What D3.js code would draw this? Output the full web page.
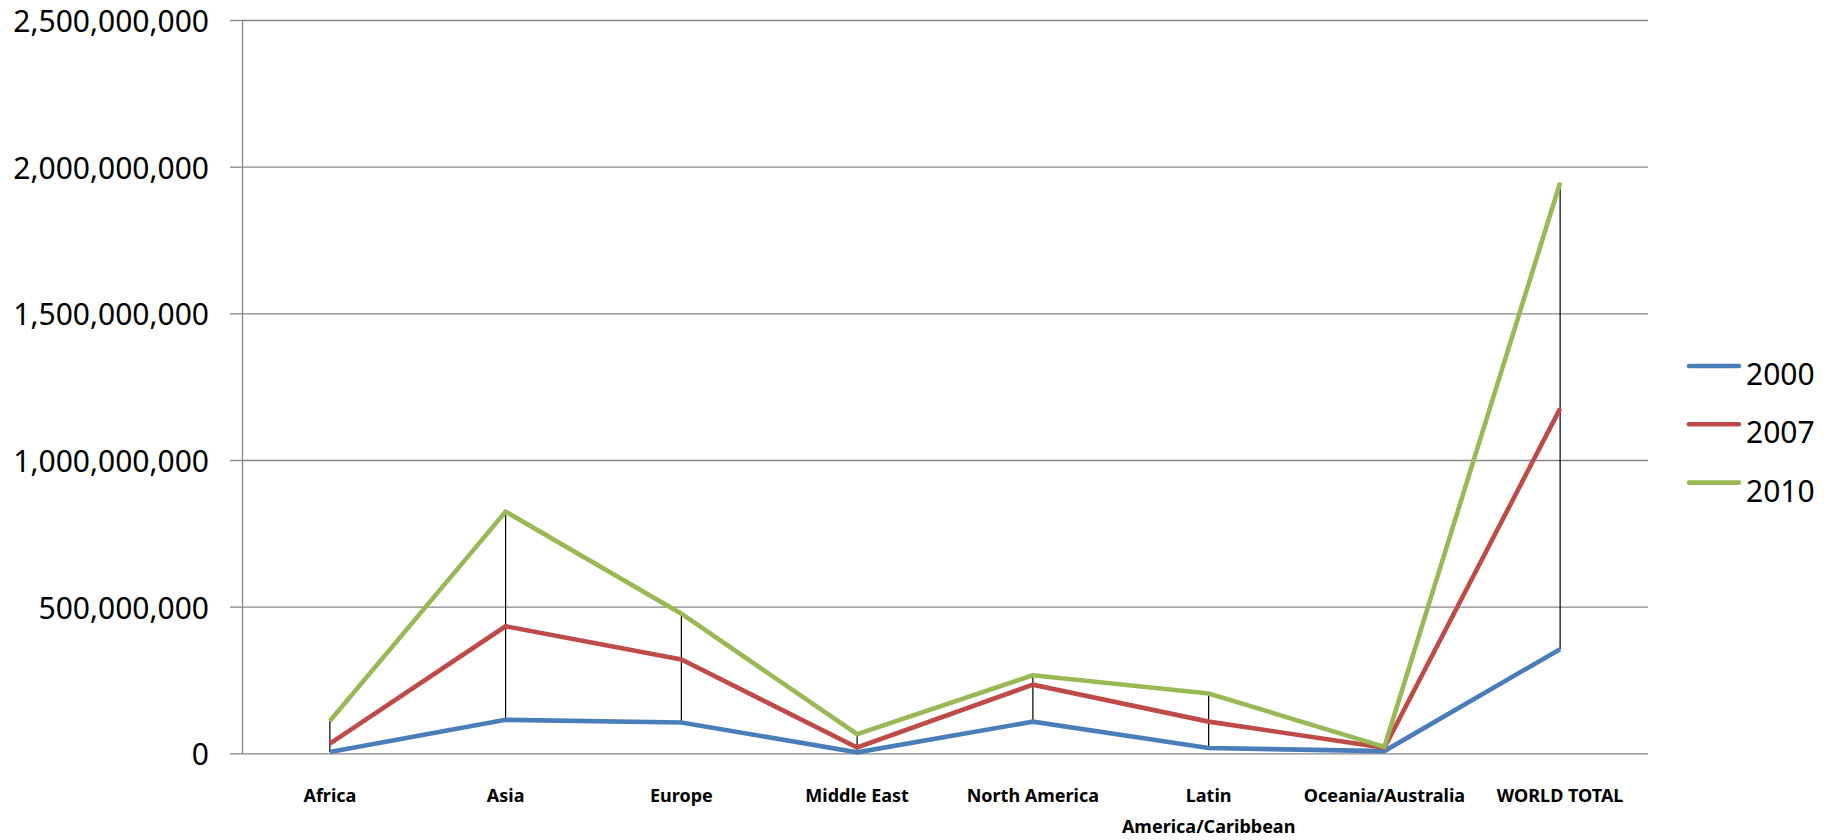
<!DOCTYPE html>
<html>
<head>
<meta charset="utf-8">
<script src="https://cdn.jsdelivr.net/npm/d3@7"></script>
<style>
  html, body { margin: 0; padding: 0; background: #ffffff; }
  svg { display: block; }
</style>
</head>
<body>
<svg id="chart" width="1839" height="840"></svg>
<script>
// Internet users by world region
const categories = ["Africa", "Asia", "Europe", "Middle East", "North America",
  "Latin America/Caribbean", "Oceania/Australia", "WORLD TOTAL"];
const categoryLabels = [["Africa"], ["Asia"], ["Europe"], ["Middle East"], ["North America"],
  ["Latin", "America/Caribbean"], ["Oceania/Australia"], ["WORLD TOTAL"]];

const years = ["2000", "2007", "2010"];
const users2000 = [4500000, 114000000, 105000000, 3300000, 108000000, 18000000, 7600000, 355000000];
const users2007 = [33000000, 433000000, 320000000, 20000000, 234000000, 108000000, 19000000, 1175000000];
const users2010 = [110000000, 824000000, 476000000, 65000000, 266000000, 204000000, 22000000, 1945000000];
const seriesValues = [users2000, users2007, users2010];
const seriesColors = ["#4A7EBB", "#BE4B48", "#98B954"];

const yTicks = [0, 500000000, 1000000000, 1500000000, 2000000000, 2500000000];

const svg = d3.select("#chart");

const plotLeft = 242, plotRight = 1648, plotTop = 20, plotBottom = 753.3;
const gridColor = "#868686";

const x = d3.scaleBand().domain(categories).range([plotLeft, plotRight]).padding(0);
const y = d3.scaleLinear().domain([0, 2500000000]).range([plotBottom, plotTop]);
const cx = c => x(c) + x.bandwidth() / 2;

// horizontal gridlines
const grid = svg.append("g")
  .attr("transform", `translate(${plotLeft},0)`)
  .call(d3.axisRight(y).tickValues(yTicks).tickSize(plotRight - plotLeft).tickFormat(""));
grid.select(".domain").remove();
grid.selectAll(".tick line").attr("stroke", gridColor).attr("stroke-width", 1.3);

// value axis with outside tick marks and labels
const yAxis = svg.append("g")
  .attr("transform", `translate(${plotLeft},0)`)
  .call(d3.axisLeft(y).tickValues(yTicks).tickSize(12).tickPadding(21)
    .tickFormat(d3.format(",")).tickSizeOuter(0));
yAxis.select(".domain").attr("stroke", gridColor).attr("stroke-width", 1.3);
yAxis.selectAll(".tick line").attr("stroke", gridColor).attr("stroke-width", 1.3);
yAxis.selectAll(".tick text")
  .attr("font-family", "'Noto Sans', 'Open Sans', sans-serif")
  .attr("font-size", 30)
  .attr("fill", "#000")
  .attr("dy", "0.38em");

// category axis labels
const xAxis = svg.append("g")
  .attr("transform", `translate(0,${plotBottom})`)
  .call(d3.axisBottom(x).tickSize(0).tickFormat(""));
xAxis.select(".domain").remove();
xAxis.selectAll(".tick").each(function(d, i) {
  const t = d3.select(this).append("text")
    .attr("font-family", "'Noto Sans', 'Open Sans', sans-serif")
    .attr("font-size", 18)
    .attr("font-weight", "bold")
    .attr("fill", "#000")
    .attr("text-anchor", "middle");
  categoryLabels[i].forEach((line, k) => {
    t.append("tspan").attr("x", 0).attr("y", 49 + k * 31).text(line);
  });
});

// high-low lines between the lowest and highest series at each category
svg.append("g").selectAll("line")
  .data(categories)
  .join("line")
  .attr("x1", c => cx(c)).attr("x2", c => cx(c))
  .attr("y1", (c, i) => y(d3.min(seriesValues, s => s[i])))
  .attr("y2", (c, i) => y(d3.max(seriesValues, s => s[i])))
  .attr("stroke", "#000")
  .attr("stroke-width", 1.2);

// series lines
const line = d3.line().x((d, i) => cx(categories[i])).y(d => y(d));
svg.append("g").selectAll("path")
  .data(seriesValues)
  .join("path")
  .attr("d", d => line(d))
  .attr("fill", "none")
  .attr("stroke", (d, i) => seriesColors[i])
  .attr("stroke-width", 4.6)
  .attr("stroke-linejoin", "miter");

// legend
const legend = svg.append("g").selectAll("g")
  .data(years)
  .join("g")
  .attr("transform", (d, i) => `translate(0,${366 + i * 58.3})`);
legend.append("line")
  .attr("x1", 1689).attr("x2", 1739)
  .attr("y1", 0).attr("y2", 0)
  .attr("stroke", (d, i) => seriesColors[i])
  .attr("stroke-width", 4.6)
  .attr("stroke-linecap", "round");
legend.append("text")
  .attr("x", 1746).attr("y", 19)
  .attr("font-family", "'Noto Sans', 'Open Sans', sans-serif")
  .attr("font-size", 30)
  .attr("fill", "#000")
  .text(d => d);
</script>
</body>
</html>
